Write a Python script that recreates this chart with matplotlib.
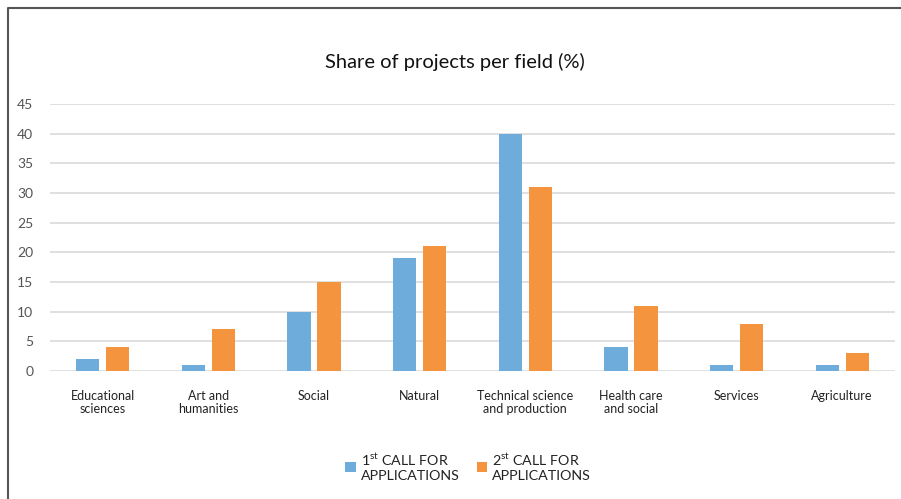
import matplotlib
matplotlib.use("Agg")
import matplotlib.pyplot as plt
from matplotlib.lines import Line2D
import numpy as np

categories = ["Educational\nsciences", "Art and\nhumanities", "Social", "Natural",
              "Technical science\nand production", "Health care\nand social",
              "Services", "Agriculture"]
first_call = [2, 1, 10, 19, 40, 4, 1, 1]
second_call = [4, 7, 15, 21, 31, 11, 8, 3]
yticks = [0, 5, 10, 15, 20, 25, 30, 35, 40, 45]
series_labels = [r"1$^{\mathrm{st}}$ CALL FOR" + "\nAPPLICATIONS",
                 r"2$^{\mathrm{st}}$ CALL FOR" + "\nAPPLICATIONS"]

plt.rcParams["font.family"] = ["Lato", "DejaVu Sans"]
plt.rcParams["mathtext.fontset"] = "custom"
plt.rcParams["mathtext.rm"] = "Lato"

BLUE = "#6EACDC"
ORANGE = "#F4943F"

fig = plt.figure(figsize=(9.01, 4.99), dpi=100)
ax = fig.add_axes([50 / 901, 1 - 371 / 499, 845 / 901, (371 - 104) / 499])

x = np.arange(len(categories))
w = 0.22
off = 0.142
ax.bar(x - off, first_call, width=w, color=BLUE, zorder=3, label=series_labels[0])
ax.bar(x + off, second_call, width=w, color=ORANGE, zorder=3, label=series_labels[1])

ax.set_xlim(-0.5, len(categories) - 0.5)
ax.set_ylim(0, 45)
ax.set_yticks(yticks)
ax.set_xticks(x)
ax.set_xticklabels(categories, fontsize=9, color="#222222", linespacing=1.05)
ax.tick_params(axis="both", length=0)
ax.tick_params(axis="y", labelsize=10, colors="#555555", pad=12)
ax.tick_params(axis="x", pad=14)
ax.grid(axis="y", color="#DADADA", linewidth=1.2, zorder=0)
for s in ax.spines.values():
    s.set_visible(False)

fig.text(455 / 901, 1 - 62 / 499, "Share of projects per field (%)",
         ha="center", va="center", fontsize=14.5, color="#111111")

leg = fig.legend(loc="center", bbox_to_anchor=(468 / 901, 1 - 467 / 499), ncol=2,
                 frameon=False, fontsize=10.3, handlelength=0.75, handleheight=0.75,
                 handletextpad=0.35, columnspacing=1.2, labelspacing=0)
for t in leg.get_texts():
    t.set_color("#222222")
    t.set_linespacing(1.2)

# frame around the figure
fig.add_artist(Line2D([7.5 / 901, 7.5 / 901, 1], [0, 1 - 8 / 499, 1 - 8 / 499],
                      transform=fig.transFigure, color="#555555", linewidth=1.5))

fig.savefig("out.png", dpi=100)
